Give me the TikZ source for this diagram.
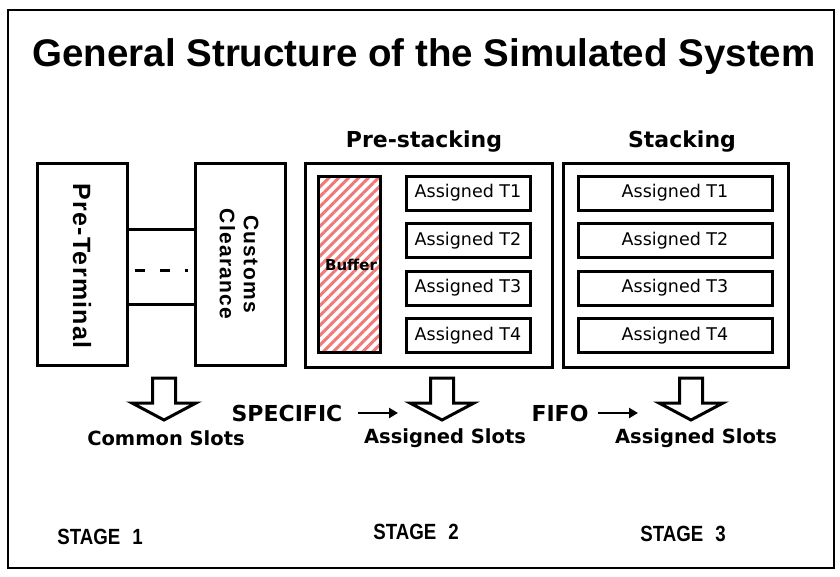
\documentclass[tikz,border=0pt]{standalone}
\usepackage{fontspec}
\setmainfont{Liberation Sans}
\newfontfamily\verd{DejaVu Sans}
\usetikzlibrary{patterns.meta,arrows.meta}
\definecolor{hatch}{RGB}{240,120,120}
\begin{document}
\begin{tikzpicture}[x=1pt,y=-1pt,
  box/.style={draw,line width=3pt,inner sep=0pt},
  slot/.style={draw,line width=3pt,minimum height=34pt,inner sep=0pt,
    font=\verd\fontsize{17.5}{19}\selectfont},
  vlabel/.style={rotate=-90,font=\bfseries\fontsize{25}{27}\selectfont\addfontfeature{LetterSpace=5},align=center},
  head/.style={font=\verd\bfseries\fontsize{22}{24}\selectfont},
  slotlabel/.style={font=\verd\bfseries\fontsize{19.5}{21}\selectfont},
  flowlabel/.style={font=\verd\bfseries\fontsize{22}{24}\selectfont},
  stage/.style={font=\bfseries\fontsize{22}{24}\selectfont,xscale=0.85},
  smallarr/.style={line width=2.5pt,-{Triangle[length=9pt,width=10pt]}},
  downarr/.pic={\draw[line width=3pt,line join=miter,fill=white]
    (-11.5,0) -- (11.5,0) -- (11.5,25) -- (32,25) -- (0,42) -- (-32,25) -- (-11.5,25) -- cycle;}
]
\useasboundingbox (0,0) rectangle (840,576);
\fill[white] (0,0) rectangle (840,576);
\node[draw,line width=2pt,minimum width=826pt,minimum height=558pt,inner sep=0pt] (frame) at (421,289) {};

\node[font=\bfseries\fontsize{38.5}{40}\selectfont] (title) at (424,57) {General Structure of the Simulated System};

% stage 1
\node[box,minimum width=90pt,minimum height=202pt] (pt) at (82,264) {};
\node[vlabel] (ptl) at (82,266) {Pre-Terminal};
\node[box,minimum width=90pt,minimum height=202pt] (cc) at (240,264) {};
\node[vlabel,font=\bfseries\fontsize{21}{24}\selectfont\addfontfeature{LetterSpace=6}] (ccl) at (239,264) {Customs\\Clearance};
\draw[line width=3pt] (pt.east |- 0,229) -- (cc.west |- 0,229);
\draw[line width=3pt] (pt.east |- 0,304) -- (cc.west |- 0,304);
\draw[line width=3pt,dash pattern=on 10pt off 15pt] ([xshift=6pt]pt.east |- 0,270) -- ([xshift=-6pt]cc.west |- 0,270);

% stage 2
\node[head] (psl) at (424,142) {Pre-stacking};
\node[box,minimum width=247pt,minimum height=204pt] (ps) at (428.5,265) {};
\node[draw,line width=3pt,minimum width=62pt,minimum height=176pt,inner sep=0pt,
  pattern={Lines[angle=45,distance=7pt,line width=3pt]},pattern color=hatch] (buf) at (349,264) {};
\node[font=\verd\bfseries\fontsize{15}{17}\selectfont] (bufl) at (351,265) {Buffer};
\node[slot,minimum width=124pt] (p1) at (468,193) {Assigned T1};
\node[slot,minimum width=124pt] (p2) at (468,240.5) {Assigned T2};
\node[slot,minimum width=124pt] (p3) at (468,288) {Assigned T3};
\node[slot,minimum width=124pt] (p4) at (468,335.5) {Assigned T4};

% stage 3
\node[head] (stl) at (682,142) {Stacking};
\node[box,minimum width=225pt,minimum height=204pt] (st) at (675.5,265) {};
\node[slot,minimum width=194pt] (s1) at (675,193) {Assigned T1};
\node[slot,minimum width=194pt] (s2) at (675,240.5) {Assigned T2};
\node[slot,minimum width=194pt] (s3) at (675,288) {Assigned T3};
\node[slot,minimum width=194pt] (s4) at (675,335.5) {Assigned T4};

% arrows
\pic at (164,378) {downarr};
\pic at (442,378) {downarr};
\pic at (691,378) {downarr};
\node[slotlabel] (c1) at (166,438) {Common Slots};
\node[slotlabel] (c2) at (445,438) {Assigned Slots};
\node[slotlabel] (c3) at (696,438) {Assigned Slots};
\node[flowlabel] (spec) at (287,413) {SPECIFIC};
\node[flowlabel] (fifo) at (560,413) {FIFO};
\coordinate (a1s) at (358,413);
\coordinate (a1e) at (398,413);
\coordinate (a2s) at (598,413);
\coordinate (a2e) at (638,413);
\draw[smallarr] (a1s) -- (a1e);
\draw[smallarr] (a2s) -- (a2e);

% stages
\node[stage] (st1) at (100,537) {STAGE\hspace{14pt}1};
\node[stage] (st2) at (416,532) {STAGE\hspace{14pt}2};
\node[stage] (st3) at (683,534) {STAGE\hspace{14pt}3};
\end{tikzpicture}
\end{document}
